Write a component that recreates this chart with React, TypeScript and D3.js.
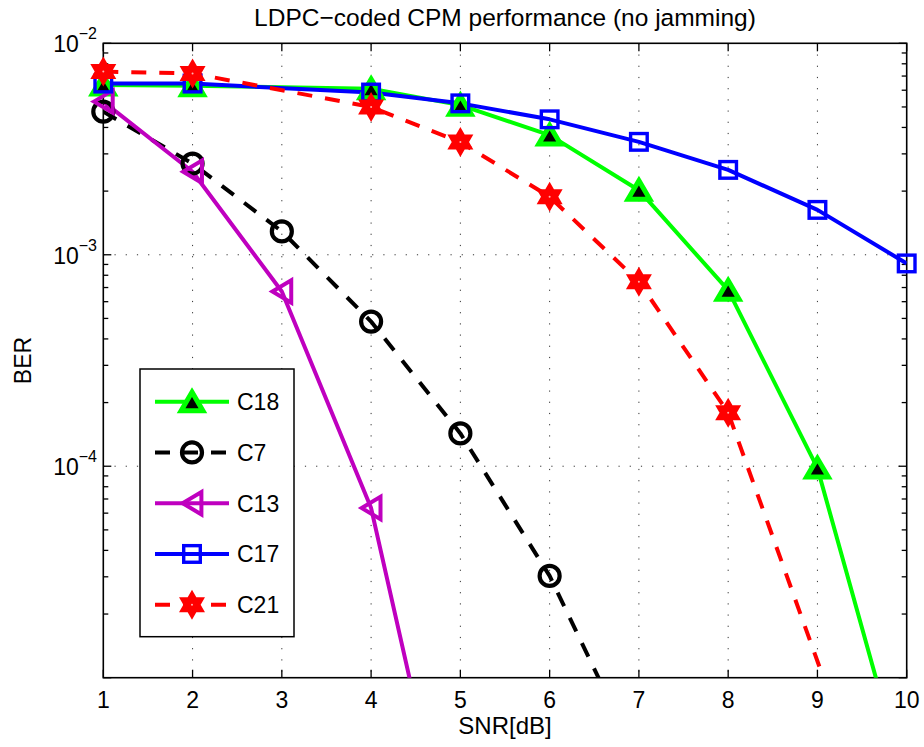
import React from "react";
import * as d3 from "d3";

// Measured BER curves, one pair of arrays per code
const SNR_C18 = [1, 2, 4, 5, 6, 7, 8, 9, 10];
const BER_C18 = [6.35e-3, 6.3e-3, 6.1e-3, 5.1e-3, 3.68e-3, 2.02e-3, 6.8e-4, 9.8e-5, 3.0e-6];

const SNR_C7 = [1, 2, 3, 4, 5, 6, 7];
const BER_C7 = [4.75e-3, 2.7e-3, 1.29e-3, 4.83e-4, 1.43e-4, 3.03e-5, 4.0e-6];

const SNR_C13 = [1, 2, 3, 4, 5];
const BER_C13 = [5.3e-3, 2.47e-3, 6.7e-4, 6.34e-5, 8.6e-7];

const SNR_C17 = [1, 2, 4, 5, 6, 7, 8, 9, 10];
const BER_C17 = [6.45e-3, 6.45e-3, 5.85e-3, 5.2e-3, 4.37e-3, 3.42e-3, 2.52e-3, 1.63e-3, 9.1e-4];

const SNR_C21 = [1, 2, 4, 5, 6, 7, 8, 10];
const BER_C21 = [7.35e-3, 7.2e-3, 5.0e-3, 3.41e-3, 1.88e-3, 7.46e-4, 1.79e-4, 8e-7];

const SERIES_NAMES = ["C18", "C7", "C13", "C17", "C21"];
const X_TICKS = [1, 2, 3, 4, 5, 6, 7, 8, 9, 10];
const Y_DECADES = [-5, -4, -3, -2];
const Y_LABELED = [-4, -3, -2];

const TITLE = "LDPC\u2212coded CPM performance (no jamming)";
const X_LABEL = "SNR[dB]";
const Y_LABEL = "BER";

const FONT = "'Liberation Sans', Arial, Helvetica, sans-serif";

type Marker = "triUp" | "circle" | "triLeft" | "square" | "hexagram";

interface Series {
  name: string;
  x: number[];
  y: number[];
  color: string;
  dashed: boolean;
  marker: Marker;
  fill: string;
}

const series: Series[] = [
  { name: SERIES_NAMES[0], x: SNR_C18, y: BER_C18, color: "#00ff00", dashed: false, marker: "triUp", fill: "#000" },
  { name: SERIES_NAMES[1], x: SNR_C7, y: BER_C7, color: "#000000", dashed: true, marker: "circle", fill: "none" },
  { name: SERIES_NAMES[2], x: SNR_C13, y: BER_C13, color: "#bf00bf", dashed: false, marker: "triLeft", fill: "none" },
  { name: SERIES_NAMES[3], x: SNR_C17, y: BER_C17, color: "#0000ff", dashed: false, marker: "square", fill: "none" },
  { name: SERIES_NAMES[4], x: SNR_C21, y: BER_C21, color: "#ff0000", dashed: true, marker: "hexagram", fill: "#ff0000" },
];

const W = 924;
const H = 747;
const L = 103.3;
const R = 906.7;
const T = 43.3;
const B = 677.7;

const DASH = "15,13";

function hexagramPath(r: number): string {
  const ri = r / Math.sqrt(3);
  const pts: string[] = [];
  for (let k = 0; k < 12; k++) {
    const a = ((-90 + k * 30) * Math.PI) / 180;
    const rad = k % 2 === 0 ? r : ri;
    pts.push(`${(rad * Math.cos(a)).toFixed(2)},${(rad * Math.sin(a)).toFixed(2)}`);
  }
  return "M" + pts.join("L") + "Z";
}

function MarkerShape({ type, cx, cy, color, fill }: { type: Marker; cx: number; cy: number; color: string; fill: string }) {
  const t = `translate(${cx},${cy})`;
  switch (type) {
    case "triUp":
      return (
        <path
          transform={t}
          d="M0,-9.6L10.9,9.0L-10.9,9.0Z"
          fill={fill}
          stroke={color}
          strokeWidth={5}
          strokeLinejoin="miter"
        />
      );
    case "circle":
      return <circle cx={cx} cy={cy} r={10} fill="none" stroke={color} strokeWidth={4.2} />;
    case "triLeft":
      return (
        <path
          transform={t}
          d="M-9.4,0L9.4,-11.2L9.4,11.2Z"
          fill="none"
          stroke={color}
          strokeWidth={4}
          strokeLinejoin="miter"
        />
      );
    case "square":
      return <rect x={cx - 8.3} y={cy - 8.3} width={16.6} height={16.6} fill="none" stroke={color} strokeWidth={3.4} />;
    case "hexagram":
      return (
        <g transform={t}>
          <path d={hexagramPath(12)} fill={fill} stroke={color} strokeWidth={3} strokeLinejoin="miter" />
          <circle r={1} fill="#fff" opacity={0.7} />
        </g>
      );
  }
  return null;
}

export default function App() {
  const x = d3.scaleLinear().domain([1, 10]).range([L, R]);
  const y = d3.scaleLog().domain([1e-5, 1e-2]).range([B, T]);

  const line = d3
    .line<[number, number]>()
    .x((d) => x(d[0]))
    .y((d) => y(d[1]));

  const minorTicks: number[] = [];
  for (let e = -5; e < -2; e++) {
    for (let m = 2; m <= 9; m++) minorTicks.push(m * Math.pow(10, e));
  }

  const legendX = 140;
  const legendY = 369;
  const legendW = 154;
  const legendH = 267.7;
  const rowY = (i: number) => 401.7 + i * 50.75;

  return (
    <svg
      width={W}
      height={H}
      viewBox={`0 0 ${W} ${H}`}
      style={{ position: "absolute", left: 0, top: 0, background: "#fff" }}
      fontFamily={FONT}
    >
      <defs>
        <clipPath id="plotClip">
          <rect x={L} y={T} width={R - L} height={B - T} />
        </clipPath>
      </defs>
      <rect x={0} y={0} width={W} height={H} fill="#fff" />

      {/* grid */}
      <g stroke="#333" strokeWidth={1} strokeDasharray="1.2,10">
        {X_TICKS.filter((v) => v > 1 && v < 10).map((v) => (
          <line key={"gx" + v} x1={x(v)} x2={x(v)} y1={T} y2={B} />
        ))}
        {Y_DECADES.filter((e) => e > -5 && e < -2).map((e) => (
          <line key={"gy" + e} x1={L} x2={R} y1={y(Math.pow(10, e))} y2={y(Math.pow(10, e))} />
        ))}
      </g>

      {/* ticks */}
      <g stroke="#000" strokeWidth={1.3}>
        {X_TICKS.map((v) => (
          <g key={"tx" + v}>
            <line x1={x(v)} x2={x(v)} y1={B} y2={B - 8} />
            <line x1={x(v)} x2={x(v)} y1={T} y2={T + 8} />
          </g>
        ))}
        {Y_DECADES.map((e) => (
          <g key={"ty" + e}>
            <line x1={L} x2={L + 8} y1={y(Math.pow(10, e))} y2={y(Math.pow(10, e))} />
            <line x1={R} x2={R - 8} y1={y(Math.pow(10, e))} y2={y(Math.pow(10, e))} />
          </g>
        ))}
        {minorTicks.map((v, i) => (
          <g key={"mt" + i}>
            <line x1={L} x2={L + 5} y1={y(v)} y2={y(v)} />
            <line x1={R} x2={R - 5} y1={y(v)} y2={y(v)} />
          </g>
        ))}
      </g>

      {/* axes box */}
      <rect x={L} y={T} width={R - L} height={B - T} fill="none" stroke="#000" strokeWidth={1.6} />

      {/* tick labels */}
      <g fontSize={23} fill="#000">
        {X_TICKS.map((v) => (
          <text key={"lx" + v} x={x(v)} y={708} textAnchor="middle">
            {v}
          </text>
        ))}
        {Y_LABELED.map((e) => (
          <text key={"ly" + e} x={97} y={y(Math.pow(10, e)) + 9} textAnchor="end">
            <tspan>10</tspan>
            <tspan dy={-13} fontSize={16}>
              {"\u2212" + Math.abs(e)}
            </tspan>
          </text>
        ))}
      </g>

      {/* data lines */}
      <g clipPath="url(#plotClip)" fill="none">
        {series.map((s) => (
          <path
            key={"line" + s.name}
            d={line(s.x.map((v, i) => [v, s.y[i]] as [number, number])) || ""}
            stroke={s.color}
            strokeWidth={4}
            strokeDasharray={s.dashed ? DASH : undefined}
            strokeLinejoin="round"
          />
        ))}
      </g>

      {/* markers */}
      {series.map((s) => (
        <g key={"mk" + s.name}>
          {s.x.map((v, i) =>
            s.y[i] >= 1e-5 ? (
              <MarkerShape key={i} type={s.marker} cx={x(v)} cy={y(s.y[i])} color={s.color} fill={s.fill} />
            ) : null
          )}
        </g>
      ))}

      {/* legend */}
      <rect x={legendX} y={legendY} width={legendW} height={legendH} fill="#fff" stroke="#000" strokeWidth={1.5} />
      {series.map((s, i) => (
        <g key={"lg" + s.name}>
          <line
            x1={155}
            x2={229}
            y1={rowY(i)}
            y2={rowY(i)}
            stroke={s.color}
            strokeWidth={4}
            strokeDasharray={s.dashed ? DASH : undefined}
          />
          <MarkerShape type={s.marker} cx={192} cy={rowY(i)} color={s.color} fill={s.fill} />
          <text x={237} y={rowY(i) + 8.3} fontSize={23} fill="#000">
            {s.name}
          </text>
        </g>
      ))}

      {/* title and axis labels */}
      <text x={(L + R) / 2} y={26} textAnchor="middle" fontSize={24.5} fill="#000">
        {TITLE}
      </text>
      <text x={(L + R) / 2} y={734} textAnchor="middle" fontSize={24} fill="#000">
        {X_LABEL}
      </text>
      <text transform={`translate(31,${(T + B) / 2}) rotate(-90)`} textAnchor="middle" fontSize={23} fill="#000">
        {Y_LABEL}
      </text>
    </svg>
  );
}
